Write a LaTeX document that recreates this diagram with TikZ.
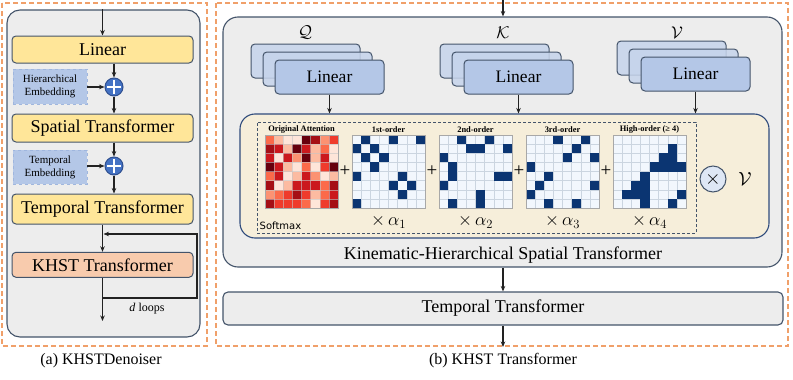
\documentclass[tikz,border=0pt]{standalone}
\usepackage{fix-cm}
\usepackage{fontspec}
\setmainfont{Liberation Serif}
\newfontfamily\softfont{DejaVu Sans}
\usetikzlibrary{arrows.meta}
\definecolor{panelgray}{HTML}{EDEDED}
\definecolor{edge}{HTML}{44546A}
\definecolor{yel}{HTML}{FFE699}
\definecolor{peach}{HTML}{F8CBAD}
\definecolor{embblue}{HTML}{B4C7E7}
\definecolor{embedge}{HTML}{9FB6DE}
\definecolor{plusblue}{HTML}{4472C4}
\definecolor{plusedge}{HTML}{2F4F8F}
\definecolor{linblue}{HTML}{B4C7E7}
\definecolor{linblueb}{HTML}{C6D4EB}
\definecolor{orangeline}{HTML}{F0A06A}
\definecolor{cream}{HTML}{F6EEDA}
\definecolor{creamedge}{HTML}{2F4B7C}
\definecolor{matbg}{HTML}{F2F7FD}
\definecolor{gridc}{HTML}{CBD5E0}
\definecolor{matnavy}{HTML}{0B3572}
\definecolor{matedge}{HTML}{A8A8A8}
\definecolor{arrc}{HTML}{222222}
\definecolor{otfill}{HTML}{DEE7F5}
\definecolor{att0}{HTML}{FEE5D9}
\definecolor{att1}{HTML}{FCBBA1}
\definecolor{att2}{HTML}{FC9272}
\definecolor{att3}{HTML}{FB6A4A}
\definecolor{att4}{HTML}{EF3B2C}
\definecolor{att5}{HTML}{CB181D}
\definecolor{att6}{HTML}{A50F15}
\definecolor{att7}{HTML}{67000D}
\newcommand\mybluecells[3]{%
  \fill[matbg] (#1,#2) rectangle ++(73,73);
  \foreach \k in {1,...,7} {
    \draw[gridc, line width=0.4pt] ({#1+\k*9.125},#2) -- ++(0,73);
    \draw[gridc, line width=0.4pt] (#1,{#2+\k*9.125}) -- ++(73,0);
  }
  \foreach \cc/\rr in {#3} {
    \fill[matnavy] ({#1+\cc*9.125},{#2+\rr*9.125}) rectangle ++(9.125,9.125);
  }
}
\begin{document}
\begin{tikzpicture}[x=1pt,y=-1pt,
  arr/.style={-{Stealth[length=5.5pt,width=4.5pt]}, line width=1.1pt, draw=arrc},
  odash/.style={draw=orangeline, line width=1.1pt, dash pattern=on 5pt off 3pt},
  panel/.style={draw=edge, line width=1.1pt, fill=panelgray, rounded corners=13pt, inner sep=0pt},
  ybox/.style={draw=edge, line width=1pt, fill=yel, rounded corners=4pt, inner sep=0pt, minimum width=181pt, font=\fontsize{18}{20}\selectfont},
  pbox/.style={ybox, fill=peach},
  emb/.style={fill=embblue, draw=embedge, line width=0.6pt, dashed, inner sep=0pt, minimum width=74pt, align=center, font=\fontsize{11}{13}\selectfont},
  pluscirc/.style={circle, fill=plusblue, draw=plusedge, line width=1pt, minimum size=18pt, inner sep=0pt},
  linbox/.style={draw=edge, line width=1pt, fill=linblue, rounded corners=4pt, minimum width=109pt, minimum height=34pt, inner sep=0pt, font=\fontsize{17.5}{19}\selectfont},
  linbk/.style={linbox, fill=linblueb, fill opacity=0.85},
  mattitle/.style={font=\fontsize{8.4}{9}\selectfont\bfseries, inner sep=0pt},
  matframe/.style={draw=matedge, line width=0.8pt, minimum size=73pt, inner sep=0pt},
  plussign/.style={font=\fontsize{19}{21}\selectfont, inner sep=0pt},
  alab/.style={font=\fontsize{18}{20}\selectfont, inner sep=0pt},
  qkv/.style={font=\fontsize{17}{19}\selectfont, inner sep=0pt},
  caption/.style={font=\fontsize{16}{18}\selectfont, inner sep=0pt}
]
\useasboundingbox (0,0) rectangle (793,380);

% ---------------- Left panel ----------------
\draw[odash] (2,3) rectangle (207,346);
\node[panel, minimum width=193pt, minimum height=327pt] (lpanel) at (103.5,173.5) {};

\node[ybox, minimum height=27pt] (lin) at (102.5,49.5) {Linear};
\node[ybox, minimum height=28pt] (spat) at (102.5,128) {Spatial Transformer};
\node[ybox, minimum height=30pt] (temp) at (102.5,209) {Temporal Transformer};
\node[pbox, minimum height=25pt] (khst) at (102.5,264.8) {KHST Transformer};

\node[emb, minimum height=35pt] (hemb) at (50,86.5) {Hierarchical\\Embedding};
\node[emb, minimum height=34pt] (temb) at (50,167) {Temporal\\Embedding};

\node[pluscirc] (p1) at (114,87) {};
\node[pluscirc] (p2) at (114,166) {};
\foreach \p in {p1,p2} {
  \draw[white, line width=1.8pt] ([yshift=-2.5pt]\p.north) -- ([yshift=2.5pt]\p.south);
  \draw[white, line width=1.8pt] ([xshift=2.5pt]\p.west) -- ([xshift=-2.5pt]\p.east);
}

\draw[arr] (lin.north |- lpanel.north) -- (lin.north);
\draw[arr] (lin.south -| p1) -- (p1.north);
\draw[arr] (hemb.east |- p1) -- (p1.west);
\draw[arr] (p1.south) -- (spat.north -| p1);
\draw[arr] (spat.south -| p2) -- (p2.north);
\draw[arr] (temb.east |- p2) -- (p2.west);
\draw[arr] (p2.south) -- (temp.north -| p2);
\draw[arr] (temp.south -| khst.north) -- (khst.north);

\coordinate (lend) at (102.5,321);
\coordinate (lb) at (102.5,298);
\coordinate (lr) at (197,298);
\coordinate (lt) at (197,234);
\coordinate (li) at (103.5,234);
\draw[arr] (khst.south) -- (lend);
\draw[arr] (lb) -- (lr) -- (lt) -- (li);
\node[font=\fontsize{12}{14}\selectfont, inner sep=0pt] (dl) at (147,309) {\textit{d} loops};

\node[caption] (capa) at (101,361) {(a) KHSTDenoiser};

% ---------------- Right panel ----------------
\draw[odash] (216,3) rectangle (788,346);
\node[panel, rounded corners=15pt, minimum width=559pt, minimum height=250pt] (rpanel) at (502.5,142) {};
\coordinate (tin) at (503,0);
\draw[arr] (tin) -- (tin |- rpanel.north);

% Q stack
\node[linbk] (qb) at (305.5,61) {};
\node[linbk] (qm) at (317.5,69) {};
\node[linbox] (qf) at (329.5,77) {Linear};
% K stack
\node[linbk] (kb) at (494.5,61) {};
\node[linbk] (km) at (506.5,69) {};
\node[linbox] (kf) at (518.5,77) {Linear};
% V stack
\node[linbk] (vb) at (671.5,58) {};
\node[linbk] (vm) at (683.5,66) {};
\node[linbox] (vf) at (695.5,74) {Linear};

\node[qkv] (ql) at (305,33) {$\mathcal{Q}$};
\node[qkv] (kl) at (503,33) {$\mathcal{K}$};
\node[qkv] (vl) at (677,33) {$\mathcal{V}$};

% cream panel
\node[draw=creamedge, line width=1.1pt, fill=cream, rounded corners=15pt, minimum width=529pt, minimum height=124pt, inner sep=0pt] (cream) at (504.5,176) {};
\draw[arr] (qf.south) -- (qf.south |- cream.north);
\draw[arr] (kf.south) -- (kf.south |- cream.north);
\draw[arr] (vf.south) -- (vf.south |- cream.north);

\node[draw=edge, line width=0.9pt, dash pattern=on 3pt off 2pt, minimum width=439pt, minimum height=111pt, inner sep=0pt] (dbox) at (476.5,177.5) {};

% original attention
\foreach \row [count=\r from 0] in {{3,1,0,0,7,6,2,4},{6,5,1,7,5,1,3,0},{5,0,5,2,7,1,5,0},{7,5,1,0,3,0,4,7},{3,5,0,1,5,2,0,1},{6,0,1,5,5,5,3,6},{2,3,4,6,4,1,3,5},{6,4,4,4,3,0,4,6}} {
  \foreach \v [count=\c from 0] in \row {
    \fill[fill=att\v] ({265+\c*9.125},{135+\r*9.125}) rectangle ++(9.125,9.125);
  }
}
\foreach \k in {1,...,7} {
  \draw[gray!45, line width=0.3pt, opacity=0.6] ({265+\k*9.125},135) -- ++(0,73);
  \draw[gray!45, line width=0.3pt, opacity=0.6] (265,{135+\k*9.125}) -- ++(73,0);
}
\mybluecells{352}{135}{1/0,4/0,7/0,0/1,2/1,1/2,3/2,2/3,0/4,5/4,4/5,6/5,5/6,0/7}
\mybluecells{439}{135}{2/0,5/0,3/1,4/1,7/1,0/2,1/3,1/4,6/4,7/4,0/5,4/6,1/7,4/7}
\mybluecells{526}{135}{3/0,6/0,5/1,4/2,7/2,0/3,2/4,1/5,7/5,0/6,2/7,5/7}
\mybluecells{613}{135}{6/1,5/2,6/2,4/3,5/3,6/3,7/3,3/4,2/5,3/5,1/6,2/6,3/6,7/6,3/7,6/7}

\node[matframe] (m0) at (301.5,171.5) {};
\node[matframe] (m1) at (388.5,171.5) {};
\node[matframe] (m2) at (475.5,171.5) {};
\node[matframe] (m3) at (562.5,171.5) {};
\node[matframe] (m4) at (649.5,171.5) {};

\node[mattitle] (t0) at (301.5,130) {Original Attention};
\node[mattitle] (t1) at (388.5,130) {1st-order};
\node[mattitle] (t2) at (475.5,130) {2nd-order};
\node[mattitle] (t3) at (562.5,130) {3rd-order};
\node[mattitle] (t4) at (649.5,130) {High-order (≥ 4)};

\node[plussign] (s1) at (345,171) {+};
\node[plussign] (s2) at (432,171) {+};
\node[plussign] (s3) at (519,171) {+};
\node[plussign] (s4) at (606,171) {+};

\node[alab] (a1) at (388.5,222) {$\times\,\alpha_1$};
\node[alab] (a2) at (475.5,222) {$\times\,\alpha_2$};
\node[alab] (a3) at (562.5,222) {$\times\,\alpha_3$};
\node[alab] (a4) at (649.5,222) {$\times\,\alpha_4$};

\node[font=\softfont\fontsize{10}{12}\selectfont, inner sep=0pt, anchor=west] (smax) at (259.5,226) {Softmax};

\node[circle, draw=edge, line width=1pt, fill=otfill, minimum size=26pt, inner sep=0pt, font=\fontsize{20}{22}\selectfont] (otim) at (713,179) {$\times$};
\node[font=\fontsize{19}{21}\selectfont, inner sep=0pt] (vv) at (745,179) {$\mathcal{V}$};

\node[font=\fontsize{18}{20}\selectfont, inner sep=0pt] (khstlbl) at (503,255) {Kinematic-Hierarchical Spatial Transformer};

\node[draw=edge, line width=1.1pt, fill=panelgray, rounded corners=5pt, minimum width=560pt, minimum height=33pt, inner sep=0pt, font=\fontsize{18}{20}\selectfont] (rtt) at (503,308.5) {Temporal Transformer};
\coordinate (rout) at (503,347);
\draw[arr] (rpanel.south -| rtt.north) -- (rtt.north);
\draw[arr] (rtt.south) -- (rout);

\node[caption] (capb) at (503,361) {(b) KHST Transformer};
\end{tikzpicture}
\end{document}
